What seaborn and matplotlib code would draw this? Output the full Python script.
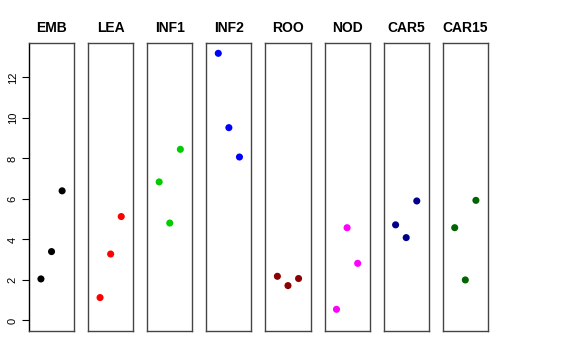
import numpy as np
import pandas as pd
import matplotlib
matplotlib.use("Agg")
import matplotlib.pyplot as plt
import seaborn as sns

# tissues, colours and the three replicate values per tissue
tissues = ["EMB", "LEA", "INF1", "INF2", "ROO", "NOD", "CAR5", "CAR15"]
colors = ["black", "red", "#00CD00", "blue", "#8B0000", "magenta", "#00008B", "#006400"]
rep1 = [2.05, 1.13, 6.84, 13.19, 2.18, 0.55, 4.72, 4.58]
rep2 = [3.40, 3.28, 4.81, 9.52, 1.72, 4.58, 4.09, 2.00]
rep3 = [6.40, 5.13, 8.45, 8.07, 2.07, 2.82, 5.90, 5.93]

df = pd.DataFrame({
    "tissue": np.repeat(tissues, 3),
    "rep": [1, 2, 3] * len(tissues),
    "value": np.ravel(np.column_stack([rep1, rep2, rep3])),
})

sns.set_style("white")
plt.rcParams["font.family"] = ["Liberation Sans", "DejaVu Sans"]

fig, axes = plt.subplots(1, len(tissues), sharey=True, figsize=(5.76, 3.6), dpi=100)
fig.subplots_adjust(left=0.0503, right=0.847, top=0.8806, bottom=0.0806, wspace=0.31)

for ax, t, c in zip(axes, tissues, colors):
    sns.scatterplot(x="rep", y="value", data=df[df.tissue == t], color=c,
                    s=26, edgecolor="none", ax=ax)
    ax.set_xlim(-0.13, 4.13)
    ax.set_title(t, fontsize=10, fontweight="bold", pad=8, color="black")
    ax.set_xticks([])
    ax.set_xlabel("")
    ax.set_ylabel("")
    for sp in ax.spines.values():
        sp.set_visible(True)
        sp.set_color("#444444")
        sp.set_linewidth(1)

axes[0].set_ylim(-0.52, 13.7)
axes[0].set_yticks(range(0, 13, 2))
axes[0].tick_params(axis="y", left=True, length=5, width=0.8, labelsize=8,
                    pad=3, labelrotation=90, color="black", labelcolor="black")
for lab in axes[0].get_yticklabels():
    lab.set_va("center")
axes[0].spines["left"].set_color("black")
for ax in axes[1:]:
    ax.tick_params(axis="y", left=False)

fig.savefig("out.png", dpi=100)
